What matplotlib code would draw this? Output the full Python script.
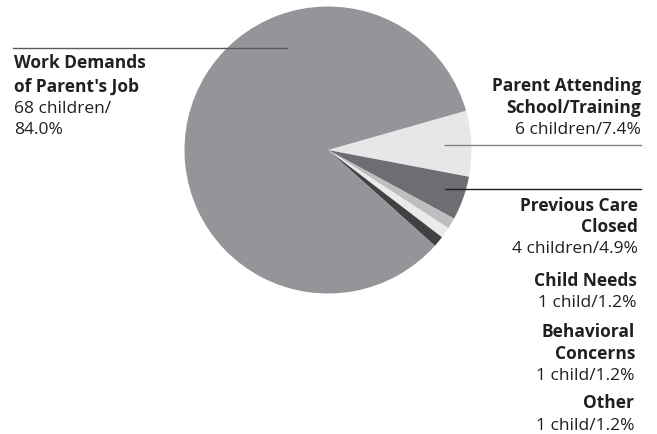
import matplotlib
matplotlib.use("Agg")
import matplotlib.pyplot as plt
from matplotlib.lines import Line2D

plt.rcParams["font.family"] = ["Open Sans", "DejaVu Sans"]

# data
categories = ["Parent Attending School/Training", "Previous Care Closed", "Child Needs",
              "Behavioral Concerns", "Other", "Work Demands of Parent's Job"]
children = [6, 4, 1, 1, 1, 68]
percents = ["7.4%", "4.9%", "1.2%", "1.2%", "1.2%", "84.0%"]
colors = ["#e6e7e8", "#6d6e71", "#bcbec0", "#e9eaeb", "#414042", "#939598"]

W, H = 657, 434
fig = plt.figure(figsize=(W / 100, H / 100), dpi=100)

# pie placed in pixel space: centre (328, 150), radius 143.5
cx, cy, r = 328, 150, 143.5
ax = fig.add_axes([(cx - r) / W, (H - cy - r) / H, 2 * r / W, 2 * r / H])
ax.pie(children, colors=colors, startangle=15.9, counterclock=False,
       wedgeprops=dict(linewidth=0))
ax.set_xlim(-1, 1)
ax.set_ylim(-1, 1)
ax.set_aspect("equal")
ax.axis("off")


def px(x, y):
    return x / W, 1 - y / H


def count_text(n):
    return f"{n} child" if n == 1 else f"{n} children"


txt_color = "#231f20"
fs = 12.5

# text lines: (x, y baseline, text, bold, ha)
labels = [
    (14, 68, "Work Demands", True, "left"),
    (14, 91.5, "of Parent's Job", True, "left"),
    (14, 113, f"{count_text(children[5])}/", False, "left"),
    (14, 134, percents[5], False, "left"),
    (641, 90.5, "Parent Attending", True, "right"),
    (641, 113, "School/Training", True, "right"),
    (641, 134, f"{count_text(children[0])}/{percents[0]}", False, "right"),
    (638, 211, "Previous Care", True, "right"),
    (638, 232.5, "Closed", True, "right"),
    (638, 253, f"{count_text(children[1])}/{percents[1]}", False, "right"),
    (637, 286, "Child Needs", True, "right"),
    (637, 307, f"{count_text(children[2])}/{percents[2]}", False, "right"),
    (635, 337, "Behavioral", True, "right"),
    (635, 359, "Concerns", True, "right"),
    (635, 379.5, f"{count_text(children[3])}/{percents[3]}", False, "right"),
    (634, 408, "Other", True, "right"),
    (634, 430, f"{count_text(children[4])}/{percents[4]}", False, "right"),
]
for x, y, s, bold, ha in labels:
    fx, fy = px(x, y)
    fig.text(fx, fy, s, ha=ha, va="baseline", fontsize=fs, color=txt_color,
             fontweight="bold" if bold else "normal")

# leader lines
leaders = [
    ((13, 287), (48, 48), "#58595b"),
    ((445, 641), (145, 145), "#808285"),
    ((445, 641), (189, 189), "#231f20"),
]
for xs, ys, c in leaders:
    fig.add_artist(Line2D([x / W for x in xs], [1 - y / H for y in ys],
                          transform=fig.transFigure, color=c, linewidth=1.0))

fig.savefig("out.png", dpi=100)
